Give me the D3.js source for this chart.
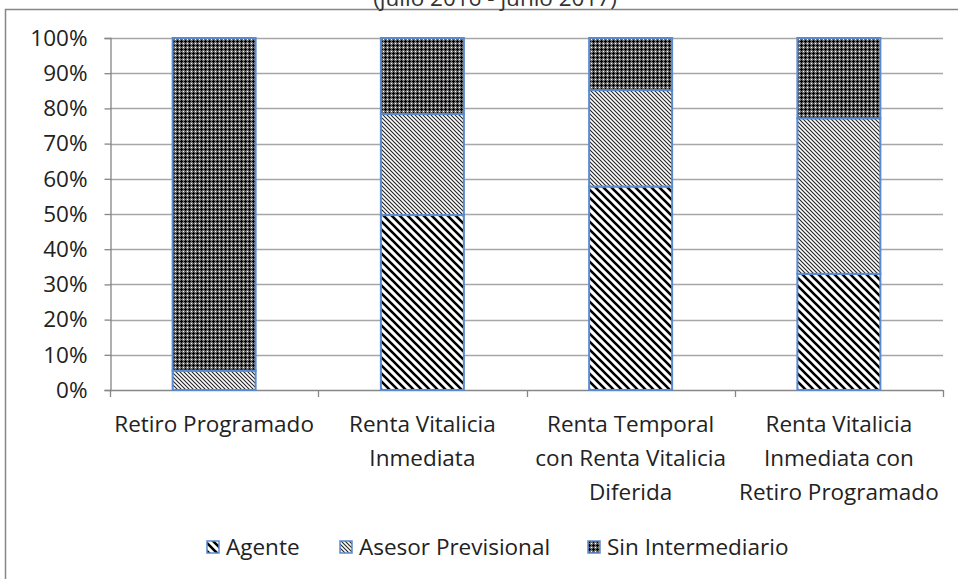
<!DOCTYPE html>
<html><head><meta charset="utf-8">
<script src="https://cdn.jsdelivr.net/npm/d3@7"></script>
<style>body{margin:0;background:#fff;}svg{display:block;font-family:"Open Sans",sans-serif;}</style>
</head><body><svg id="c" width="958" height="579"></svg>
<script>
const categories = [["Retiro Programado"],["Renta Vitalicia","Inmediata"],["Renta Temporal","con Renta Vitalicia","Diferida"],["Renta Vitalicia","Inmediata con","Retiro Programado"]];
const seriesNames = ["Agente","Asesor Previsional","Sin Intermediario"];
const agente = [0, 49.7, 57.8, 33.0];
const asesor = [5.5, 28.7, 27.4, 44.2];
const sinInter = [94.5, 21.6, 14.8, 22.8];
const yTicks = [0,10,20,30,40,50,60,70,80,90,100];
const title = "(julio 2016 - junio 2017)";

const FONT = "'Open Sans',sans-serif";
const FS = 22.5;
const svg = d3.select("#c");
const defs = svg.append("defs");
let p = defs.append("pattern").attr("id","pAg").attr("patternUnits","userSpaceOnUse").attr("width",8).attr("height",8);
p.append("rect").attr("width",8).attr("height",8).attr("fill","#fff");
p.append("path").attr("d","M-2,-2 L10,10 M-2,6 L2,10 M6,-2 L10,2").attr("stroke","#000").attr("stroke-width",2.6);
p = defs.append("pattern").attr("id","pAs").attr("patternUnits","userSpaceOnUse").attr("width",4).attr("height",4);
p.append("rect").attr("width",4).attr("height",4).attr("fill","#fff");
p.append("path").attr("d","M-1,-1 L5,5 M-1,3 L1,5 M3,-1 L5,1").attr("stroke","#222").attr("stroke-width",1.1);
p = defs.append("pattern").attr("id","pSi").attr("patternUnits","userSpaceOnUse").attr("width",4).attr("height",4);
p.append("rect").attr("width",4).attr("height",4).attr("fill","#6e6e6e");
p.append("rect").attr("x",1).attr("y",0).attr("width",1).attr("height",3).attr("fill","#000");
p.append("rect").attr("x",0).attr("y",1).attr("width",3).attr("height",1).attr("fill","#000");
p.append("rect").attr("x",3).attr("y",3).attr("width",1).attr("height",1).attr("fill","#fff");
const fills = ["url(#pAg)","url(#pAs)","url(#pSi)"];

svg.append("rect").attr("x",5.5).attr("y",9.5).attr("width",960).attr("height",580).attr("fill","none").attr("stroke","#868686").attr("stroke-width",1.5);
svg.append("text").attr("x",495).attr("y",6).attr("text-anchor","middle").attr("font-size",FS).attr("font-family",FONT).attr("fill","#333").text(title);

const L=110, R=943, T=38, B=390;
const xb = d3.scaleBand().domain(d3.range(categories.length)).range([L,R]);
const y = d3.scaleLinear().domain([0,100]).range([B,T]);

svg.append("g").selectAll("line").data(yTicks.slice(1)).join("line")
  .attr("x1",L).attr("x2",R).attr("y1",d=>Math.round(y(d))+0.5).attr("y2",d=>Math.round(y(d))+0.5)
  .attr("stroke","#a6a6a6").attr("stroke-width",1.3);

const ya = svg.append("g").attr("transform",`translate(${L+0.5},0)`)
  .call(d3.axisLeft(y).tickValues(yTicks).tickFormat(d=>d+"%").tickSize(6).tickPadding(17));
ya.select(".domain").attr("stroke","#868686").attr("stroke-width",1.3);
ya.selectAll(".tick line").attr("stroke","#868686").attr("stroke-width",1.3);
ya.selectAll("text").attr("font-size",FS).attr("fill","#222").attr("font-family",FONT);

svg.append("line").attr("x1",L).attr("x2",R).attr("y1",B+0.5).attr("y2",B+0.5).attr("stroke","#868686").attr("stroke-width",1.3);
svg.append("g").selectAll("line").data(d3.range(categories.length+1)).join("line")
  .attr("x1",d=>Math.round(L+d*xb.bandwidth())+0.5).attr("x2",d=>Math.round(L+d*xb.bandwidth())+0.5)
  .attr("y1",B).attr("y2",B+7).attr("stroke","#868686").attr("stroke-width",1.3);

const stackData = categories.map((c,i)=>({i, Agente:agente[i], "Asesor Previsional":asesor[i], "Sin Intermediario":sinInter[i]}));
const stack = d3.stack().keys(seriesNames)(stackData);
const bw = 83;
stack.forEach((layer,k)=>{
  svg.append("g").selectAll("rect").data(layer.filter(d=>d[1]-d[0]>0)).join("rect")
    .attr("x",d=>xb(d.data.i)+xb.bandwidth()/2-bw/2)
    .attr("y",d=>y(d[1])).attr("width",bw).attr("height",d=>y(d[0])-y(d[1]))
    .attr("fill",fills[k]).attr("stroke","#5a8ad0").attr("stroke-width",2);
});

categories.forEach((lines,i)=>{
  const t = svg.append("text").attr("text-anchor","middle").attr("font-size",FS).attr("font-family",FONT).attr("fill","#222");
  lines.forEach((ln,j)=>t.append("tspan").attr("x",xb(i)+xb.bandwidth()/2).attr("y",432+j*34).text(ln));
});

const legX = [207, 340, 588];
seriesNames.forEach((s,k)=>{
  svg.append("rect").attr("x",legX[k]).attr("y",541).attr("width",12).attr("height",12)
    .attr("fill",fills[k]).attr("stroke","#5a8ad0").attr("stroke-width",1.5);
  svg.append("text").attr("x",legX[k]+19).attr("y",555).attr("font-size",FS).attr("font-family",FONT).attr("fill","#222").text(s);
});
</script></body></html>
